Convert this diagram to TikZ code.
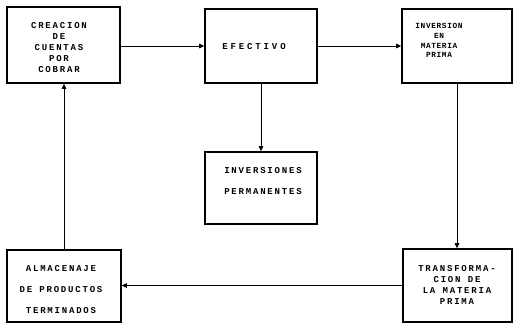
\documentclass[tikz,border=0pt]{standalone}
\usepackage{fontspec}
\setmonofont{Liberation Mono}
\newfontfamily\boxfont[LetterSpace=20]{Liberation Mono Bold}
\newfontfamily\boxfontb[LetterSpace=8]{Liberation Mono Bold}
\newfontfamily\boxfontc[LetterSpace=32]{Liberation Mono Bold}
\usetikzlibrary{arrows.meta}
\tikzset{
  blk/.style={draw=black, line width=1.6pt, inner sep=0pt, fill=white},
  lbl/.style={font=\boxfont\fontsize{9}{11}\selectfont, align=center, inner sep=0pt},
  conn/.style={line width=0.9pt, -{Triangle[length=5pt,width=4.5pt]}},
}
\begin{document}
\begin{tikzpicture}[x=1pt,y=-1pt]
\useasboundingbox (0,0) rectangle (514,324);
\node[blk, minimum width=113pt, minimum height=76pt] (b1) at (63.5,45) {};
\node[blk, minimum width=112pt, minimum height=74pt] (b2) at (261,46) {};
\node[blk, minimum width=110pt, minimum height=74pt] (b3) at (457,46) {};
\node[blk, minimum width=112pt, minimum height=72pt] (b4) at (261,188) {};
\node[blk, minimum width=114pt, minimum height=72pt] (b5) at (64,286) {};
\node[blk, minimum width=109pt, minimum height=73pt] (b6) at (457.5,285.5) {};

\node[lbl] (t1) at (59,48) {CREACION\\DE\\CUENTAS\\POR\\COBRAR};
\node[lbl, font=\boxfontc\fontsize{9}{11}\selectfont] (t2) at (254,47) {EFECTIVO};
\node[lbl, font=\boxfontb\fontsize{7.8}{9.8}\selectfont] (t3) at (439,40.5) {INVERSION\\EN\\MATERIA\\PRIMA};
\node[lbl, font=\boxfont\fontsize{9}{21}\selectfont] (t4) at (263,181.5) {INVERSIONES\\PERMANENTES};
\node[lbl, font=\boxfont\fontsize{9}{21}\selectfont] (t5) at (61,290) {ALMACENAJE\\DE PRODUCTOS\\TERMINADOS};
\node[lbl] (t6) at (457,285) {TRANSFORMA-\\CION DE\\LA MATERIA\\PRIMA};

\draw[conn] (b1.east |- b2.west) -- (b2.west);
\draw[conn] (b2.east) -- (b3.west);
\draw[conn] (b2.south) -- (b4.north);
\draw[conn] (b3.south) -- (b3.south |- b6.north);
\draw[conn] (b6.west) -- (b6.west -| b5.east);
\draw[conn] (b5.north) -- (b5.north |- b1.south);
\end{tikzpicture}
\end{document}
